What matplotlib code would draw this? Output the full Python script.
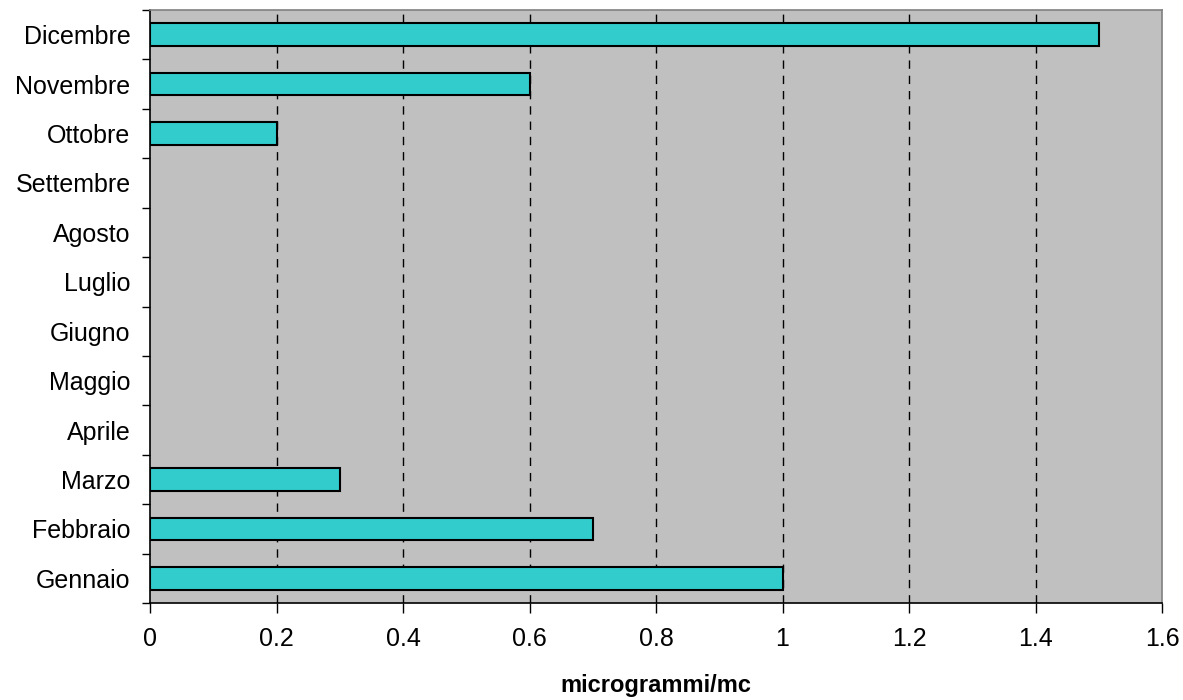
import matplotlib
matplotlib.use("Agg")
import matplotlib.pyplot as plt
import numpy as np

months = ["Gennaio", "Febbraio", "Marzo", "Aprile", "Maggio", "Giugno",
          "Luglio", "Agosto", "Settembre", "Ottobre", "Novembre", "Dicembre"]
values = [1.0, 0.7, 0.3, 0, 0, 0, 0, 0, 0, 0.2, 0.6, 1.5]
xticks = [0, 0.2, 0.4, 0.6, 0.8, 1, 1.2, 1.4, 1.6]
xticklabels = ["0", "0.2", "0.4", "0.6", "0.8", "1", "1.2", "1.4", "1.6"]

plt.rcParams['font.family'] = ['Liberation Sans', 'DejaVu Sans']

fig = plt.figure(figsize=(11.83, 7), dpi=100)
ax = fig.add_axes([150/1183, 97/700, 1012/1183, 593/700])
ax.set_facecolor("#c0c0c0")

y = np.arange(len(months))
for yi, v in zip(y, values):
    if v > 0:
        ax.barh(yi, v, height=0.46, color="#33cccc", edgecolor="black", linewidth=1.5, zorder=3)

ax.set_xlim(0, 1.6)
ax.set_ylim(-0.5, len(months) - 0.5)
ax.set_xticks(xticks)
ax.set_xticklabels(xticklabels, fontsize=18)
ax.set_yticks(y)
ax.set_yticklabels(months, fontsize=18)
ax.tick_params(axis='y', which='major', length=0, pad=14)
ax.set_yticks(np.arange(-0.5, len(months), 1), minor=True)
ax.tick_params(axis='y', which='minor', length=6, width=1, color='black')
ax.tick_params(axis='x', which='major', length=7, width=1, direction='out', pad=10)

for xv in xticks[1:-1]:
    ax.axvline(xv, color='black', linestyle=(0, (6, 5)), linewidth=1, zorder=1)

ax.spines['left'].set_color('black')
ax.spines['bottom'].set_color('black')
ax.spines['top'].set_color('#808080')
ax.spines['right'].set_color('#808080')
for s in ax.spines.values():
    s.set_linewidth(1.2)

ax.set_xlabel("microgrammi/mc", fontsize=17, fontweight='bold', labelpad=17)

fig.savefig("out.png", dpi=100)
